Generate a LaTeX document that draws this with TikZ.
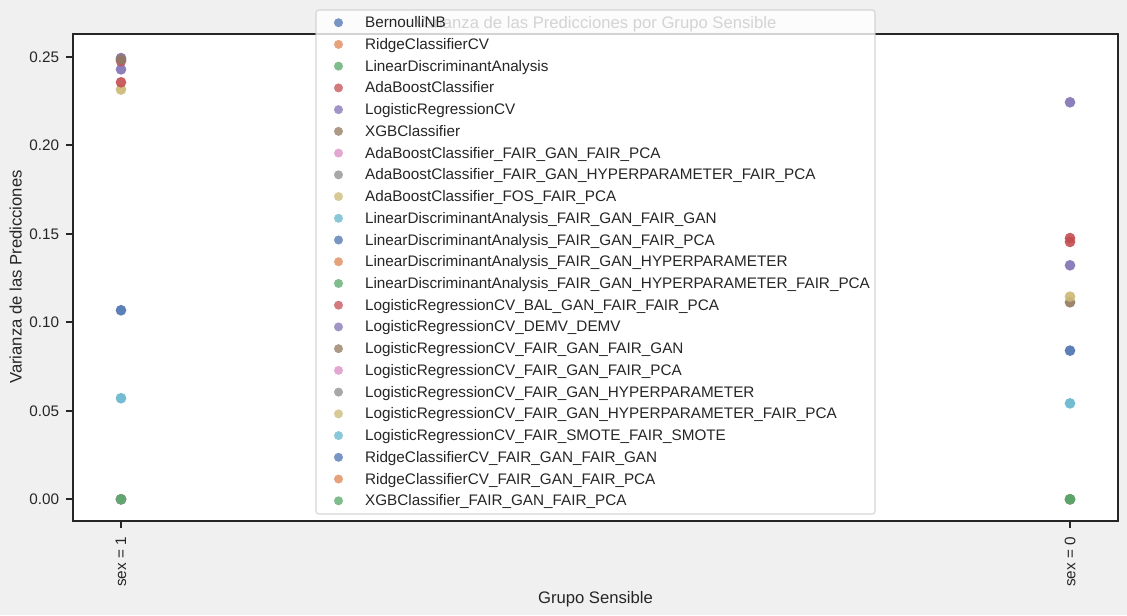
\documentclass[tikz,border=0pt]{standalone}
\usepackage{fontspec}
\setmainfont{Liberation Sans}
\usetikzlibrary{positioning}
\definecolor{ink}{HTML}{262626}
\definecolor{figbg}{HTML}{F0F0F0}
\definecolor{c0}{HTML}{4C72B0}
\definecolor{c1}{HTML}{DD8452}
\definecolor{c2}{HTML}{55A868}
\definecolor{c3}{HTML}{C44E52}
\definecolor{c4}{HTML}{8172B3}
\definecolor{c5}{HTML}{937860}
\definecolor{c6}{HTML}{DA8BC3}
\definecolor{c7}{HTML}{8C8C8C}
\definecolor{c8}{HTML}{CCB974}
\definecolor{c9}{HTML}{64B5CD}
\tikzset{dot/.style={circle,fill=#1,fill opacity=0.9,inner sep=0pt,minimum size=7.7pt},
  key/.style={circle,fill=#1,fill opacity=0.75,inner sep=0pt,minimum size=6.5pt},
  tick/.style={ink,line width=1.25pt},
  lbl/.style={font=\fontsize{11}{13}\selectfont,text=ink,inner sep=0pt},
  big/.style={font=\fontsize{12}{14}\selectfont,text=ink,inner sep=0pt}}

\begin{document}
\begin{tikzpicture}[x=0.72pt,y=-0.72pt]
\useasboundingbox[fill=figbg] (0,0) rectangle (1127,615);
\fill[white] (73,34) rectangle (1118,521);
\node[big,anchor=base] (title) at (595.5,28.3) {Varianza de las Predicciones por Grupo Sensible};
% sex = 1
\foreach \v/\c [count=\i] in {0/c1,0/c7,0/c6,0.0571/c9,0.1068/c0,0.2315/c8,0.2356/c3,0.2429/c4,0.2476/c3,0.2493/c4,0.2485/c5,0/c2}
  \node[dot=\c] (a\i) at (121,{499.3-1770*\v}) {};
% sex = 0
\foreach \v/\c [count=\i] in {0/c1,0/c7,0.0542/c9,0.0840/c0,0.1113/c5,0.1145/c8,0.1322/c4,0.1476/c3,0.1454/c3,0.2243/c4,0/c2}
  \node[dot=\c] (b\i) at (1070,{499.3-1770*\v}) {};
\draw[tick] (73,34) rectangle (1118,521);
\foreach \v [count=\k] in {0.00,0.05,0.10,0.15,0.20,0.25} {
  \draw[tick] (73,{499.3-1770*\v}) -- (66,{499.3-1770*\v});
  \node[lbl,anchor=east] (yt\k) at (59.3,{499.3-1770*\v}) {\v};
}
\foreach \x/\t in {121/1,1070/0} {
  \draw[tick] (\x,521) -- (\x,528);
  \node[lbl,rotate=90,anchor=east] (xt\t) at (\x,536.7) {sex = \t};
}
\node[big,anchor=base] (xlab) at (595.5,603.5) {Grupo Sensible};
\node[big,rotate=90,anchor=base] (ylab) at (21.7,277) {Varianza de las Predicciones};
% leyenda
\draw[rounded corners=2pt,draw=black!20,fill=white,fill opacity=0.8,draw opacity=0.8,line width=0.8pt] (316,10) rectangle (875,514);
\foreach \n [count=\i from 0] in {BernoulliNB,RidgeClassifierCV,LinearDiscriminantAnalysis,AdaBoostClassifier,LogisticRegressionCV,XGBClassifier,
  AdaBoostClassifier\_FAIR\_GAN\_FAIR\_PCA,AdaBoostClassifier\_FAIR\_GAN\_HYPERPARAMETER\_FAIR\_PCA,AdaBoostClassifier\_FOS\_FAIR\_PCA,
  LinearDiscriminantAnalysis\_FAIR\_GAN\_FAIR\_GAN,LinearDiscriminantAnalysis\_FAIR\_GAN\_FAIR\_PCA,LinearDiscriminantAnalysis\_FAIR\_GAN\_HYPERPARAMETER,
  LinearDiscriminantAnalysis\_FAIR\_GAN\_HYPERPARAMETER\_FAIR\_PCA,LogisticRegressionCV\_BAL\_GAN\_FAIR\_FAIR\_PCA,LogisticRegressionCV\_DEMV\_DEMV,
  LogisticRegressionCV\_FAIR\_GAN\_FAIR\_GAN,LogisticRegressionCV\_FAIR\_GAN\_FAIR\_PCA,LogisticRegressionCV\_FAIR\_GAN\_HYPERPARAMETER,
  LogisticRegressionCV\_FAIR\_GAN\_HYPERPARAMETER\_FAIR\_PCA,LogisticRegressionCV\_FAIR\_SMOTE\_FAIR\_SMOTE,RidgeClassifierCV\_FAIR\_GAN\_FAIR\_GAN,
  RidgeClassifierCV\_FAIR\_GAN\_FAIR\_PCA,XGBClassifier\_FAIR\_GAN\_FAIR\_PCA} {
  \pgfmathtruncatemacro\c{mod(\i,10)}
  \node[key=c\c] (k\i) at (338.5,{22.7+21.73*\i}) {};
  \node[lbl,anchor=base west] (n\i) at (364.8,{27.7+21.73*\i}) {\n};
}
\end{tikzpicture}
\end{document}
